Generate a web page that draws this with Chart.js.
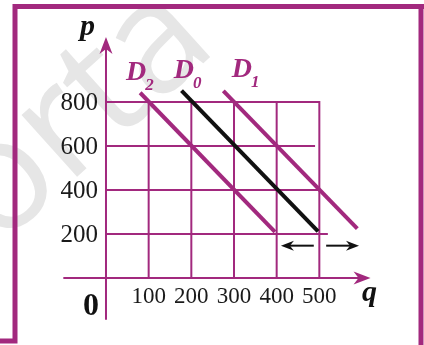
<!DOCTYPE html>
<html>
<head>
<meta charset="utf-8">
<script src="https://cdn.jsdelivr.net/npm/chart.js@4/dist/chart.umd.min.js"></script>
<style>
  html, body { margin: 0; padding: 0; background: #fff; }
  #wrap { width: 424px; height: 345px; }
</style>
</head>
<body>
<div id="wrap"><canvas id="demandChart" width="424" height="345"></canvas></div>
<script>
// quantity / price grid
const qTicks = [100, 200, 300, 400, 500];
const pTicks = [200, 400, 600, 800];
const rowEnds = [520, 500, 490, 500];   // how far each price row runs along q

// demand curves: D2 (down), D0 (original), D1 (up)
const curveNames = ['D2', 'D0', 'D1'];
const curveQ = [[80, 396], [177, 497], [275, 589]];
const curveP = [[842, 210], [852, 212], [851, 224]];
const curveColors = ['#a2297e', '#111111', '#a2297e'];

// shift arrows under D0
const shiftP = 147;
const shiftFrom = [487, 516];
const shiftTo = [410, 593];

const PURPLE = '#a2297e';

const datasets = curveNames.map((name, i) => ({
  label: name,
  data: curveQ[i].map((q, j) => ({ x: q, y: curveP[i][j] })),
  showLine: true,
  borderColor: curveColors[i],
  borderWidth: 4,
  pointRadius: 0,
  fill: false
}));

function arrowHead(ctx, tx, ty, dx, dy, len, half, notch) {
  // dx,dy: unit direction the arrow points to
  const bx = tx - dx * len, by = ty - dy * len;
  const nx = -dy, ny = dx;
  ctx.beginPath();
  ctx.moveTo(tx, ty);
  ctx.lineTo(bx + nx * half, by + ny * half);
  ctx.lineTo(tx - dx * (len - notch), ty - dy * (len - notch));
  ctx.lineTo(bx - nx * half, by - ny * half);
  ctx.closePath();
  ctx.fill();
}

const diagramPlugin = {
  id: 'diagram',
  beforeDraw(chart) {
    const ctx = chart.ctx;
    ctx.save();
    ctx.fillStyle = '#fff';
    ctx.fillRect(0, 0, chart.width, chart.height);
    // faint watermark behind everything
    ctx.translate(-2, 248);
    ctx.rotate(-42 * Math.PI / 180);
    ctx.font = '155px "Open Sans"';
    ctx.fillStyle = '#e6e6e6';
    ctx.textBaseline = 'alphabetic';
    ctx.fillText('orta', 0, 0);
    ctx.restore();
  },
  beforeDatasetsDraw(chart) {
    const ctx = chart.ctx;
    const xs = chart.scales.x, ys = chart.scales.y;
    ctx.save();
    ctx.strokeStyle = PURPLE;
    ctx.lineWidth = 2;
    // grid rows
    pTicks.forEach((p, i) => {
      const y = ys.getPixelForValue(p);
      ctx.beginPath();
      ctx.moveTo(xs.getPixelForValue(0), y);
      ctx.lineTo(xs.getPixelForValue(rowEnds[i]), y);
      ctx.stroke();
    });
    // grid columns
    qTicks.forEach(q => {
      const x = xs.getPixelForValue(q);
      ctx.beginPath();
      ctx.moveTo(x, ys.getPixelForValue(0));
      ctx.lineTo(x, ys.getPixelForValue(pTicks[pTicks.length - 1]) - 1);
      ctx.stroke();
    });
    // axes
    const x0 = xs.getPixelForValue(0), y0 = ys.getPixelForValue(0);
    const xEnd = xs.getPixelForValue(620), yEnd = ys.getPixelForValue(1095);
    ctx.beginPath();
    ctx.moveTo(xs.getPixelForValue(-100), y0);
    ctx.lineTo(xEnd - 8, y0);
    ctx.moveTo(x0, ys.getPixelForValue(-190));
    ctx.lineTo(x0, yEnd + 8);
    ctx.stroke();
    ctx.fillStyle = PURPLE;
    arrowHead(ctx, xEnd, y0, 1, 0, 17, 6.5, 5);
    arrowHead(ctx, x0, yEnd, 0, -1, 17, 6.5, 5);
    ctx.restore();
  },
  afterDraw(chart) {
    const ctx = chart.ctx;
    const xs = chart.scales.x, ys = chart.scales.y;
    ctx.save();

    // tick labels
    ctx.fillStyle = '#1a1a1a';
    ctx.font = '25px "Liberation Serif"';
    ctx.textAlign = 'right';
    ctx.textBaseline = 'middle';
    pTicks.forEach(p => {
      ctx.fillText(String(p), xs.getPixelForValue(-19), ys.getPixelForValue(p) + 1);
    });
    ctx.font = '23px "Liberation Serif"';
    ctx.textAlign = 'center';
    ctx.textBaseline = 'alphabetic';
    qTicks.forEach(q => {
      ctx.fillText(String(q), xs.getPixelForValue(q), ys.getPixelForValue(-114));
    });

    // axis names and origin
    ctx.textAlign = 'left';
    ctx.fillStyle = '#111';
    ctx.font = 'italic bold 30px "Liberation Serif"';
    ctx.fillText('p', xs.getPixelForValue(-61), ys.getPixelForValue(1105));
    ctx.fillText('q', xs.getPixelForValue(600), ys.getPixelForValue(-105));
    ctx.font = 'bold 32px "Liberation Serif"';
    ctx.fillText('0', xs.getPixelForValue(-54), ys.getPixelForValue(-168));

    // curve names with subscripts
    const namePos = [[47, 900], [159, 909], [295, 914]];
    ctx.fillStyle = PURPLE;
    curveNames.forEach((name, i) => {
      const x = xs.getPixelForValue(namePos[i][0]);
      const y = ys.getPixelForValue(namePos[i][1]);
      ctx.font = 'italic bold 28px "Liberation Serif"';
      ctx.fillText(name[0], x, y);
      const w = ctx.measureText(name[0]).width;
      ctx.font = 'italic bold 17px "Liberation Serif"';
      ctx.fillText(name.slice(1), x + w - 1, y + 10);
    });

    // shift arrows
    ctx.strokeStyle = '#111';
    ctx.fillStyle = '#111';
    ctx.lineWidth = 2;
    const ay = ys.getPixelForValue(shiftP);
    shiftFrom.forEach((q, i) => {
      const a = xs.getPixelForValue(q), b = xs.getPixelForValue(shiftTo[i]);
      const dir = Math.sign(b - a);
      ctx.beginPath();
      ctx.moveTo(a, ay);
      ctx.lineTo(b - dir * 8, ay);
      ctx.stroke();
      arrowHead(ctx, b, ay, dir, 0, 13, 5, 4);
    });

    // frame
    ctx.strokeStyle = PURPLE;
    ctx.lineWidth = 5;
    ctx.beginPath();
    ctx.moveTo(15, 343);
    ctx.lineTo(15, 6.5);
    ctx.lineTo(424, 6.5);
    ctx.moveTo(421, 6.5);
    ctx.lineTo(421, 345);
    ctx.moveTo(0, 341);
    ctx.lineTo(17.5, 341);
    ctx.stroke();
    ctx.restore();
  }
};

new Chart('demandChart', {
  type: 'scatter',
  data: { datasets: datasets },
  options: {
    responsive: false,
    animation: false,
    devicePixelRatio: 1,
    layout: { padding: 0 },
    plugins: { legend: { display: false }, tooltip: { enabled: false } },
    scales: {
      x: { type: 'linear', display: false, min: -248.4, max: 745.3 },
      y: { type: 'linear', display: false, min: -304.5, max: 1263.6 }
    }
  },
  plugins: [diagramPlugin]
});
</script>
</body>
</html>
